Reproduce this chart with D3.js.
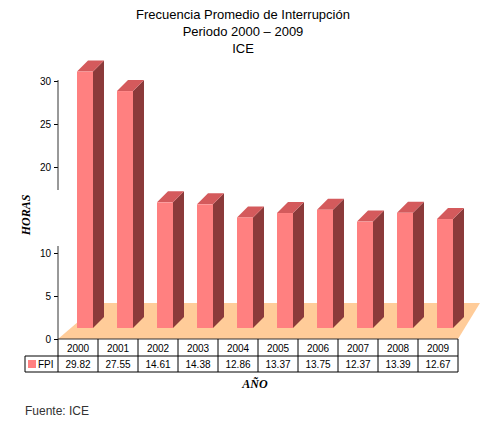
<!DOCTYPE html>
<html><head><meta charset="utf-8">
<script src="https://cdn.jsdelivr.net/npm/d3@7"></script>
<style>body{margin:0;background:#fff}</style>
</head><body><svg id="c" width="500" height="425"></svg>
<script>
const years = ['2000','2001','2002','2003','2004','2005','2006','2007','2008','2009'];
const fpi = [29.82, 27.55, 14.61, 14.38, 12.86, 13.37, 13.75, 12.37, 13.39, 12.67];
const yTicks = [0, 5, 10, 20, 25, 30];

const svg = d3.select('#c');
const font = 'Liberation Sans, Arial, sans-serif';
const left = 58, right = 458, base = 339;

const x = d3.scaleBand().domain(years).range([left, right]);
const y = d3.scaleLinear().domain([0, 30]).range([base, 81]);

// titles
['Frecuencia Promedio de Interrupción', 'Periodo 2000 – 2009', 'ICE'].forEach((t, i) => {
  svg.append('text').attr('x', 243).attr('y', 19 + i * 17).attr('text-anchor', 'middle')
    .style('font-family', font).style('font-size', '13px').text(t);
});

// floor
const fd = 36, fdx = 22;
svg.append('path')
  .attr('d', `M${left},${base}L${right},${base}L${right + fdx},${base - fd}L${left + fdx + 20},${base - fd}Z`)
  .attr('fill', '#ffcc99');

// bars
const bw = 16, dx = 11, dy = 11, lift = 11;
const g = svg.append('g');
years.forEach((yr, i) => {
  const x0 = x(yr) + 19;
  const yb = base - lift;
  const yt = y(fpi[i]) - lift;
  g.append('path').attr('fill', '#8b3a3a')
    .attr('d', `M${x0 + bw},${yb}L${x0 + bw + dx},${yb - dy}L${x0 + bw + dx},${yt - dy}L${x0 + bw},${yt}Z`);
  g.append('path').attr('fill', '#d45a5c')
    .attr('d', `M${x0},${yt}L${x0 + dx},${yt - dy}L${x0 + bw + dx},${yt - dy}L${x0 + bw},${yt}Z`);
  g.append('rect').attr('x', x0).attr('y', yt).attr('width', bw).attr('height', yb - yt).attr('fill', '#ff8080');
});

// y axis with gap
const ax = svg.append('g').attr('transform', `translate(${left},0)`)
  .call(d3.axisLeft(y).tickValues(yTicks).tickSize(4).tickSizeOuter(0));
ax.select('.domain').remove();
ax.selectAll('text').style('font-family', font).style('font-size', '10px');
svg.append('line').attr('x1', left).attr('x2', left).attr('y1', 80).attr('y2', 190).attr('stroke', '#333');
svg.append('line').attr('x1', left).attr('x2', left).attr('y1', 246).attr('y2', base).attr('stroke', '#333');
svg.append('line').attr('x1', left).attr('x2', right).attr('y1', base).attr('y2', base).attr('stroke', '#333');

svg.append('text').attr('transform', 'translate(30,215) rotate(-90)').attr('text-anchor', 'middle')
  .style('font-family', 'Liberation Serif, serif').style('font-style', 'italic').style('font-weight', 'bold')
  .style('font-size', '12px').text('HORAS');

// data table
const r1 = base, r2 = 356, r3 = 372;
const tg = svg.append('g').attr('stroke', '#000').attr('stroke-width', 1);
tg.append('line').attr('x1', left).attr('x2', right).attr('y1', r2).attr('y2', r2);
tg.append('line').attr('x1', 25).attr('x2', right).attr('y1', r3).attr('y2', r3);
tg.append('line').attr('x1', 25).attr('x2', left).attr('y1', r2).attr('y2', r2);
tg.append('line').attr('x1', 25).attr('x2', 25).attr('y1', r2).attr('y2', r3);
years.concat(['end']).forEach((yr, i) => {
  const xx = i < years.length ? x(yr) : right;
  tg.append('line').attr('x1', xx).attr('x2', xx).attr('y1', r1).attr('y2', r3);
});
years.forEach((yr, i) => {
  const cx = x(yr) + x.bandwidth() / 2;
  svg.append('text').attr('x', cx).attr('y', r2 - 4).attr('text-anchor', 'middle')
    .style('font-family', font).style('font-size', '10px').text(yr);
  svg.append('text').attr('x', cx).attr('y', r3 - 4).attr('text-anchor', 'middle')
    .style('font-family', font).style('font-size', '10px').text(fpi[i].toFixed(2));
});
svg.append('rect').attr('x', 28).attr('y', 360).attr('width', 8).attr('height', 8).attr('fill', '#ff8080');
svg.append('text').attr('x', 38).attr('y', 368).style('font-family', font).style('font-size', '10px').text('FPI');

svg.append('text').attr('x', 255).attr('y', 388).attr('text-anchor', 'middle')
  .style('font-family', 'Liberation Serif, serif').style('font-style', 'italic').style('font-weight', 'bold')
  .style('font-size', '12px').text('AÑO');

svg.append('text').attr('x', 25).attr('y', 415).style('font-family', font).style('font-size', '12px')
  .style('fill', '#333').text('Fuente: ICE');
</script></body></html>
